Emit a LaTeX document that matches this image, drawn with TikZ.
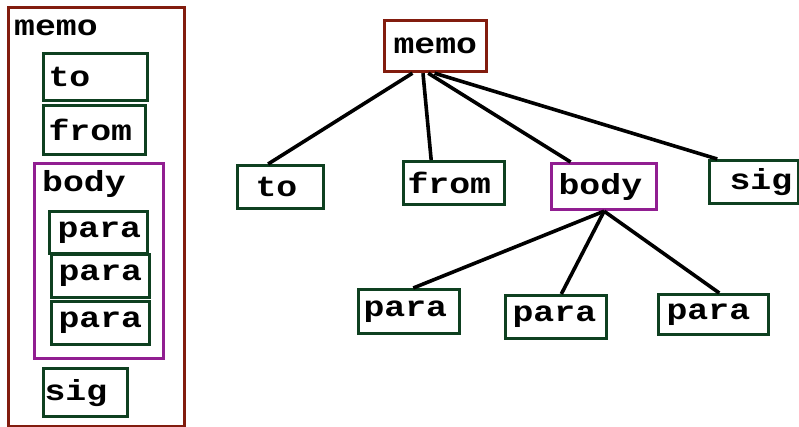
\documentclass[tikz,border=0pt]{standalone}
\usepackage{fontspec}
\usetikzlibrary{calc}
\newfontfamily\cour{Liberation Mono}[FakeStretch=1.2]
\definecolor{memored}{RGB}{130,28,14}
\definecolor{boxgreen}{RGB}{14,64,32}
\definecolor{bodypurple}{RGB}{145,30,145}
\begin{document}
\begin{tikzpicture}[x=1pt,y=-1pt,
  txt/.style={font=\cour\bfseries\fontsize{29}{29}\selectfont},
  bx/.style={txt,draw,line width=3.2pt,anchor=north west,align=left,inner ysep=0pt},
  gbox/.style={bx,draw=boxgreen},
  pbox/.style={bx,draw=bodypurple},
  rbox/.style={bx,draw=memored},
  cont/.style={draw,line width=3.2pt},
  edge/.style={draw=black,line width=3.6pt}]
\useasboundingbox (0,0) rectangle (799,427);
% ---------- left panel ----------
\node[cont,draw=memored,anchor=north west,minimum width=176,minimum height=419,inner sep=0pt] (memoL) at (7,6) {};
\node[txt,anchor=base west,inner sep=0pt] (memoLtxt) at (14,36) {memo};
\node[gbox,minimum height=47,inner xsep=5pt,text width=94pt] (toL) at (42,52) {to};
\node[gbox,minimum height=49,inner xsep=5pt,text width=92pt] (fromL) at (42,104) {from};
\node[cont,draw=bodypurple,anchor=north west,minimum width=129,minimum height=195,inner sep=0pt] (bodyL) at (33,162) {};
\node[txt,anchor=base west,inner sep=0pt] (bodyLtxt) at (42,192) {body};
\node[gbox,minimum height=42,inner xsep=8pt,text width=82pt] (paraLa) at (48,210) {para};
\node[gbox,minimum height=43,inner xsep=7pt,text width=84pt] (paraLb) at (50,253) {para};
\node[gbox,minimum height=43,inner xsep=7pt,text width=84pt] (paraLc) at (50,300) {para};
\node[gbox,minimum height=48,inner xsep=1pt,text width=82pt] (sigL) at (42,367) {sig};
% ---------- tree ----------
\node[rbox,minimum height=51,inner xsep=9pt,text width=84pt] (memoT) at (383,19) {memo};
\node[gbox,minimum height=43,inner xsep=18pt,text width=50pt] (toT) at (236,164) {to};
\node[gbox,minimum height=43,inner xsep=4pt,text width=93pt] (fromT) at (402,160) {from};
\node[pbox,minimum height=46,inner xsep=7pt,text width=91pt] (bodyT) at (550,162) {body};
\node[gbox,minimum height=43,inner xsep=20pt,text width=49pt] (sigT) at (708,159) {sig};
\node[gbox,minimum height=44,inner xsep=5pt,text width=91pt] (paraTa) at (357,288) {para};
\node[gbox,minimum height=43,inner xsep=7pt,text width=87pt] (paraTb) at (504,294) {para};
\node[gbox,minimum height=40,inner xsep=8pt,text width=94pt] (paraTc) at (657,293) {para};
% connectors
\draw[edge] ($(memoT.south west)!0.28!(memoT.south east)$) -- ($(toT.north west)!0.36!(toT.north east)$);
\draw[edge] ($(memoT.south west)!0.38!(memoT.south east)$) -- ($(fromT.north west)!0.28!(fromT.north east)$);
\draw[edge] ($(memoT.south west)!0.43!(memoT.south east)$) -- ($(bodyT.north west)!0.19!(bodyT.north east)$);
\draw[edge] ($(memoT.south west)!0.49!(memoT.south east)$) -- ($(sigT.north west)!0.10!(sigT.north east)$);
\draw[edge] ($(bodyT.south west)!0.5!(bodyT.south east)$) -- ($(paraTa.north west)!0.54!(paraTa.north east)$);
\draw[edge] ($(bodyT.south west)!0.5!(bodyT.south east)$) -- ($(paraTb.north west)!0.55!(paraTb.north east)$);
\draw[edge] ($(bodyT.south west)!0.5!(bodyT.south east)$) -- ($(paraTc.north west)!0.55!(paraTc.north east)$);
\end{tikzpicture}
\end{document}
